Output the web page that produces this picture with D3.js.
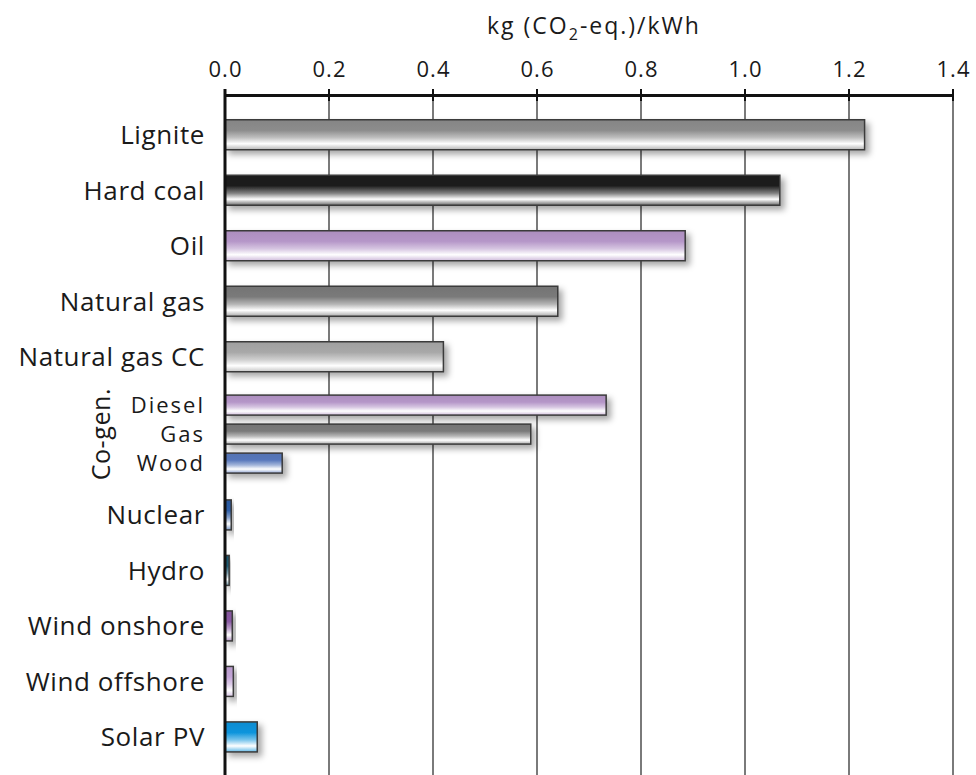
<!DOCTYPE html>
<html>
<head>
<meta charset="utf-8">
<script src="https://cdn.jsdelivr.net/npm/d3@7"></script>
<style>
  body { margin: 0; background: #fff; }
  text { font-family: "Open Sans", Lato, sans-serif; fill: #1a1a1a; }
</style>
</head>
<body>
<svg id="chart"></svg>
<script>
// main rows (top to bottom), co-gen group is inserted after "Natural gas CC"
const topRows = ["Lignite", "Hard coal", "Oil", "Natural gas", "Natural gas CC"];
const topValues = [1.23, 1.067, 0.885, 0.64, 0.42];
const topColors = ["#8c8c8c", "#1c1c1c", "#b596c8", "#7a7a7a", "#a8a8a8"];

const cogenRows = ["Diesel", "Gas", "Wood"];
const cogenValues = [0.733, 0.588, 0.11];
const cogenColors = ["#b596c8", "#7a7a7a", "#5878bc"];

const lowRows = ["Nuclear", "Hydro", "Wind onshore", "Wind offshore", "Solar PV"];
const lowValues = [0.012, 0.008, 0.014, 0.016, 0.062];
const lowColors = ["#2d5ea8", "#1d5c74", "#8a5aa4", "#c2a4d6", "#0a94dc"];

const xTicks = [0, 0.2, 0.4, 0.6, 0.8, 1.0, 1.2, 1.4];

const W = 976, H = 775;
const svg = d3.select("#chart").attr("width", W).attr("height", H);

const x = d3.scaleLinear().domain([0, 1.4]).range([225, 953]);

// vertical layout in "row units": every normal row 1 unit, the co-gen block 1.85
const cogenSpan = 1.85;
const totalUnits = topRows.length + cogenSpan + lowRows.length;
const y = d3.scaleLinear().domain([0, totalUnits]).range([107, 107 + totalUnits * 55.5]);
const barH = 30;

let bars = [];
topRows.forEach((n, i) => bars.push({name: n, value: topValues[i], color: topColors[i], c: y(i + 0.5), h: barH, cogen: false}));
const cogenTop = y(topRows.length + 0.11);
const cogenBand = d3.scaleBand().domain(cogenRows).range([cogenTop, cogenTop + 87]);
cogenRows.forEach((n, i) => bars.push({name: n, value: cogenValues[i], color: cogenColors[i],
  c: cogenBand(n) + cogenBand.bandwidth() / 2, h: 20, cogen: true}));
lowRows.forEach((n, i) => bars.push({name: n, value: lowValues[i], color: lowColors[i],
  c: y(topRows.length + cogenSpan + i + 0.5), h: barH, cogen: false}));

const defs = svg.append("defs");
const shadow = defs.append("filter").attr("id", "shadow")
  .attr("x", "-20%").attr("y", "-40%").attr("width", "160%").attr("height", "200%");
shadow.append("feDropShadow").attr("dx", 4).attr("dy", 4).attr("stdDeviation", 3)
  .attr("flood-color", "#000").attr("flood-opacity", 0.35);

bars.forEach((d, i) => {
  const base = d3.color(d.color);
  const g = defs.append("linearGradient").attr("id", "grad" + i)
    .attr("x1", 0).attr("y1", 0).attr("x2", 0).attr("y2", 1);
  const stops = [
    [0, base.darker(0.15)],
    [0.35, base],
    [0.6, d3.interpolateRgb(base, "#fff")(0.45)],
    [0.8, "#ffffff"],
    [1, d3.interpolateRgb(base, "#fff")(0.35)]
  ];
  stops.forEach(s => g.append("stop").attr("offset", s[0]).attr("stop-color", s[1]));
});

// gridlines
svg.append("g").selectAll("line")
  .data(xTicks.slice(1))
  .join("line")
  .attr("x1", d => x(d)).attr("x2", d => x(d))
  .attr("y1", 95).attr("y2", H)
  .attr("stroke", "#7a7a7a").attr("stroke-width", 2);

// bars
svg.append("g").selectAll("rect")
  .data(bars)
  .join("rect")
  .attr("x", x(0))
  .attr("y", d => d.c - d.h / 2)
  .attr("width", d => x(d.value) - x(0))
  .attr("height", d => d.h)
  .attr("fill", (d, i) => `url(#grad${i})`)
  .attr("stroke", "#3a3a3a")
  .attr("stroke-width", 1.5)
  .attr("filter", "url(#shadow)");

// top axis
const axis = svg.append("g").attr("transform", "translate(0,95)")
  .call(d3.axisTop(x).tickValues(xTicks).tickFormat(d3.format(".1f")).tickSize(0).tickPadding(18));
axis.select(".domain").attr("stroke", "#111").attr("stroke-width", 3);
axis.selectAll("text").attr("font-size", 22).attr("fill", "#1a1a1a")
  .attr("letter-spacing", 1)
  .attr("font-family", "'Open Sans', Lato, sans-serif");
svg.append("g").selectAll("line")
  .data(xTicks)
  .join("line")
  .attr("x1", d => x(d)).attr("x2", d => x(d))
  .attr("y1", 89).attr("y2", 101)
  .attr("stroke", "#111").attr("stroke-width", 2);

// left axis line
svg.append("line").attr("x1", x(0)).attr("x2", x(0)).attr("y1", 89).attr("y2", H)
  .attr("stroke", "#111").attr("stroke-width", 3);

// category labels
svg.append("g").selectAll("text")
  .data(bars)
  .join("text")
  .attr("x", 205)
  .attr("y", d => d.c)
  .attr("dy", "0.36em")
  .attr("text-anchor", "end")
  .attr("font-size", d => d.cogen ? 22 : 26)
  .attr("font-family", d => d.cogen ? "Lato, 'Open Sans', sans-serif" : null)
  .attr("letter-spacing", d => d.cogen ? 2 : 0.6)
  .text(d => d.name);

// co-gen label
svg.append("text")
  .attr("transform", `translate(110,${cogenBand(cogenRows[1]) + cogenBand.bandwidth() / 2}) rotate(-90)`)
  .attr("text-anchor", "middle")
  .attr("font-size", 25)
  .attr("letter-spacing", 0.6)
  .text("Co-gen.");

// unit title
const title = svg.append("text").attr("x", 594).attr("y", 34).attr("text-anchor", "middle")
  .attr("font-size", 23).attr("letter-spacing", 2);
title.append("tspan").text("kg (CO");
title.append("tspan").attr("font-size", 16).attr("dy", 6).text("2");
title.append("tspan").attr("dy", -6).text("-eq.)/kWh");
</script>
</body>
</html>
